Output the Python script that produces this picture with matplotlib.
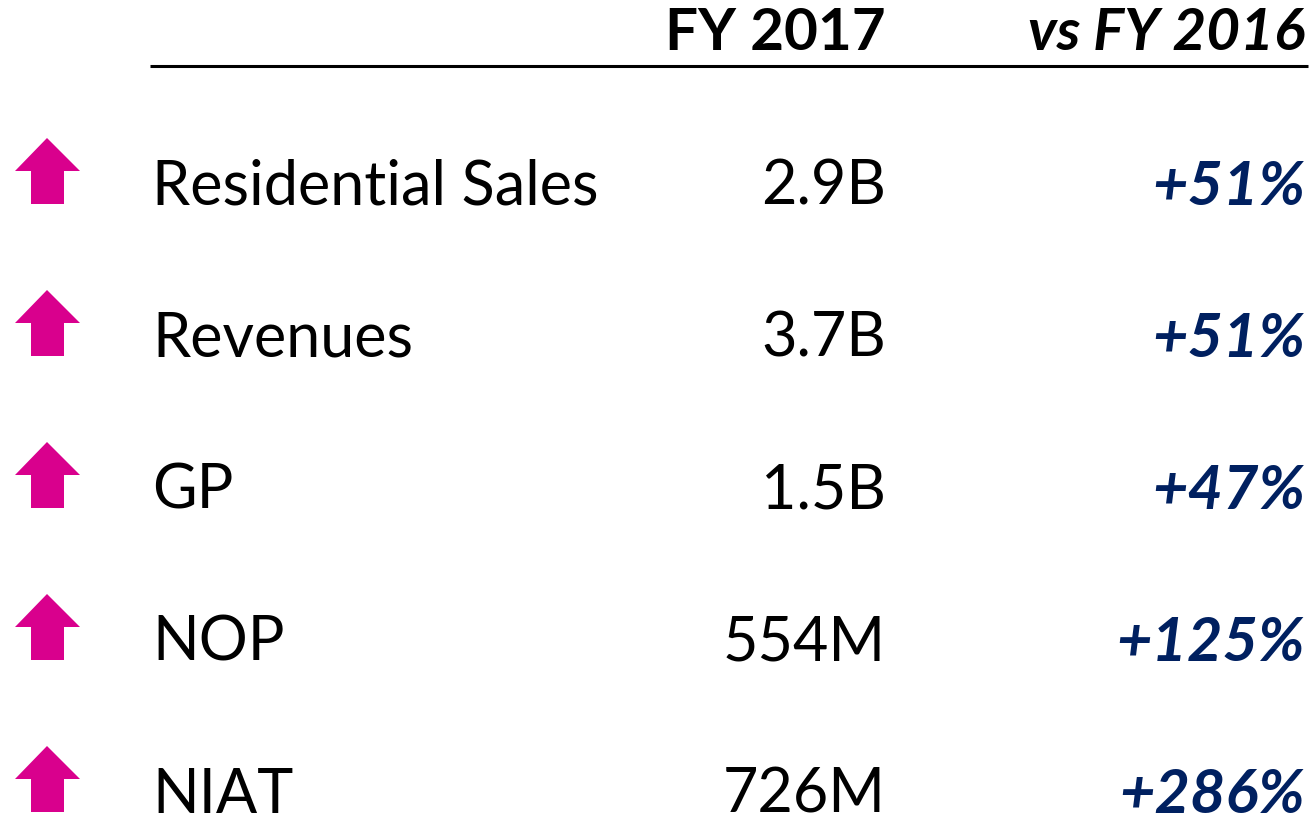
import numpy as np
import matplotlib.pyplot as plt

metrics = ["Residential Sales", "Revenues", "GP", "NOP", "NIAT"]
fy2017 = ["2.9B", "3.7B", "1.5B", "554M", "726M"]
growth = ["+51%", "+51%", "+47%", "+125%", "+286%"]
headers = ["FY 2017", "vs FY 2016"]

pink = "#D9008D"
navy = "#002060"
font = ["Lato", "DejaVu Sans"]

W, H = 1313, 828
fig = plt.figure(figsize=(W / 100, H / 100), dpi=100)
ax = fig.add_axes([0, 0, 1, 1])
ax.set_xlim(0, W)
ax.set_ylim(H, 0)
ax.axis("off")

# header
ax.text(886, 50, headers[0], ha="right", va="baseline", fontsize=42,
        fontweight="bold", family=font, color="black")
ax.text(1305, 50, headers[1], ha="right", va="baseline", fontsize=42,
        fontweight="bold", style="italic", family=font, color="black")
ax.plot([150, 1308], [67, 67], color="black", lw=2.2, solid_capstyle="butt")

# arrow shape (relative to baseline)
ax_x = np.array([47, 80, 64, 64, 31, 31, 15])
ax_y = np.array([-66, -33, -33, 0, 0, -33, -33])

row_y0, row_dy = 205, 152
for i, (m, v, g) in enumerate(zip(metrics, fy2017, growth)):
    y = row_y0 + i * row_dy
    ax.fill(ax_x, ax_y + y, color=pink, lw=0)
    ax.text(152, y, m, ha="left", va="baseline", fontsize=44, family=font,
            color="black")
    ax.text(886, y, v, ha="right", va="baseline", fontsize=44, family=font,
            color="black")
    ax.text(1305, y, g, ha="right", va="baseline", fontsize=44,
            fontweight="bold", style="italic", family=font, color=navy)

fig.savefig("out.png", dpi=100)
